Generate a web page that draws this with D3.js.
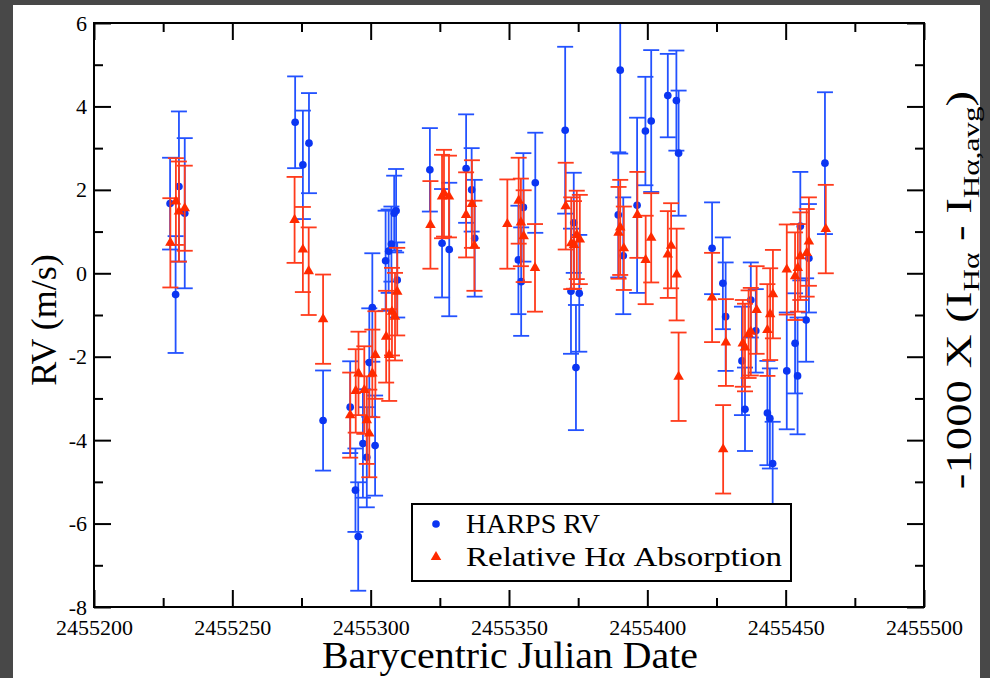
<!DOCTYPE html>
<html lang="en">
<head>
    <meta charset="UTF-8">
    <title>RV and H-alpha</title>
    <script src="https://d3js.org/d3.v7.min.js"></script>
    <style>
        body { margin: 0; background: #484848; }
        text { font-family: "Liberation Serif", "DejaVu Serif", serif; fill: #000; }
    </style>
</head>
<body>

<svg width="990" height="678"></svg>

<script>
    // HARPS RV (m/s)
    var rvBjd = [2455227.5, 2455229.5, 2455230.7, 2455232.8, 2455272.7, 2455275.5, 2455277.7, 2455282.8,
        2455292.6, 2455294.5, 2455295.5, 2455297.2, 2455298.6, 2455299.5, 2455300.6, 2455301.6,
        2455305.4, 2455306.5, 2455307.5, 2455308.5, 2455309.2, 2455309.6, 2455321.4, 2455325.8,
        2455328.4, 2455334.5, 2455336.5, 2455337.6, 2455353.4, 2455354.4, 2455355.2, 2455359.5,
        2455370.3, 2455372.4, 2455373.4, 2455374.2, 2455375.4, 2455389.5, 2455390.2, 2455391.3,
        2455396.3, 2455399.3, 2455401.4, 2455407.4, 2455410.5, 2455411.3, 2455423.4, 2455427.3,
        2455428.3, 2455434.2, 2455435.3, 2455437.4, 2455439.2, 2455443.4, 2455444.3, 2455445.3,
        2455450.4, 2455453.4, 2455454.3, 2455455.3, 2455457.4, 2455458.4, 2455464.2];
    var rvVal = [1.67, -0.51, 2.08, 1.44, 3.62, 2.60, 3.12, -3.53,
        -3.21, -5.20, -6.31, -4.08, -4.41, -2.14, -0.82, -4.13,
        0.30, 0.53, 0.70, 1.44, 1.50, -0.16, 2.48, 0.72,
        0.57, 2.51, 2.00, 0.84, 0.32, -0.20, 1.58, 2.17,
        3.43, -0.43, 1.21, -2.26, -0.48, 1.40, 4.87, 0.42,
        1.63, 3.41, 3.65, 4.26, 4.14, 2.88, 0.60, -0.24,
        -1.04, -2.10, -3.26, -0.64, -1.38, -3.35, -3.48, -4.56,
        -2.34, -1.68, -2.46, 1.13, -1.12, 0.36, 2.64];
    var rvErr = [1.1, 1.4, 1.8, 1.8, 1.1, 1.3, 1.2, 1.2,
        1.1, 1.0, 1.3, 1.3, 1.2, 1.3, 1.3, 1.2,
        1.2, 1.0, 0.9, 0.9, 1.0, 0.9, 1.0, 1.3,
        1.6, 1.3, 1.0, 1.4, 1.3, 1.3, 1.3, 1.2,
        2.0, 1.5, 1.2, 1.5, 1.4, 1.5, 2.0, 1.4,
        2.1, 1.3, 1.7, 1.0, 1.2, 1.5, 1.1, 1.1,
        1.3, 1.3, 1.0, 0.9, 1.0, 1.25, 1.2, 1.0,
        1.4, 1.2, 1.4, 1.3, 1.0, 1.3, 1.7];

    // Relative H-alpha absorption (-1000 x (I - I_avg))
    var haBjd = [2455227.6, 2455229.6, 2455230.7, 2455232.8, 2455272.5, 2455275.5, 2455277.6, 2455282.8,
        2455292.6, 2455294.6, 2455295.6, 2455297.7, 2455298.6, 2455299.5, 2455300.6, 2455301.7,
        2455305.6, 2455306.7, 2455307.7, 2455308.8, 2455309.6, 2455321.6, 2455325.8, 2455326.5,
        2455328.3, 2455334.5, 2455336.6, 2455337.5, 2455349.4, 2455353.5, 2455354.3, 2455355.3,
        2455359.4, 2455370.5, 2455372.5, 2455373.5, 2455374.5, 2455375.6, 2455389.6, 2455390.2,
        2455391.5, 2455396.4, 2455399.4, 2455401.4, 2455407.4, 2455408.6, 2455410.6, 2455411.3,
        2455423.4, 2455427.4, 2455428.4, 2455434.5, 2455435.3, 2455436.6, 2455437.4, 2455439.5,
        2455443.4, 2455444.4, 2455445.4, 2455450.4, 2455453.4, 2455454.4, 2455455.3, 2455457.6,
        2455458.4, 2455464.5];
    var haVal = [0.73, 1.72, 1.48, 1.56, 1.28, 0.57, 0.05, -1.10,
        -3.40, -2.82, -2.40, -2.80, -3.52, -3.84, -2.40, -1.96,
        -1.52, -1.96, -0.92, -1.04, -0.44, 1.16, 1.84, 1.92,
        1.84, 1.40, 1.66, 0.66, 1.18, 1.74, 1.22, 0.89,
        0.13, 1.61, 0.72, 0.68, 0.92, 0.81, 0.97, 1.10,
        0.60, 1.40, 0.32, 0.85, 0.45, 0.66, -0.03, -2.48,
        -0.58, -4.22, -1.66, -1.68, -1.78, -1.46, -1.40, -0.88,
        -1.36, -0.98, -0.50, 0.09, -0.07, 0.13, 0.41, 0.49,
        0.76, 1.06];
    var haErr = [1.07, 1.04, 1.2, 1.02, 1.03, 1.02, 1.05, 1.07,
        1.02, 1.0, 1.0, 1.05, 1.05, 1.05, 1.05, 1.05,
        1.1, 1.1, 1.05, 1.05, 1.05, 1.05, 1.0, 1.04,
        0.98, 1.02, 1.05, 1.08, 1.07, 1.03, 1.05, 1.1,
        1.05, 1.04, 1.1, 1.05, 1.06, 1.07, 1.1, 1.14,
        1.0, 1.03, 1.06, 1.07, 1.04, 1.02, 1.1, 1.06,
        1.07, 1.06, 1.04, 1.04, 1.05, 1.05, 1.05, 1.05,
        1.1, 1.1, 1.06, 1.08, 1.05, 1.05, 1.05, 1.05,
        1.06, 1.06];

    var xMajor = d3.range(2455200, 2455501, 50);
    var xMinor = d3.range(2455225, 2455500, 50);
    var yMajor = d3.range(-8, 7, 2);
    var yMinor = d3.range(-7, 6, 2);
    var legendLabels = ['HARPS RV', 'Relative H\u03b1 Absorption'];

    var blueLine = '#2352ff', blueDot = '#0b35f2';
    var redLine = '#ff3b1c', redDot = '#ff2a00';

    var svg = d3.select('svg');
    var pL = 94, pT = 23, pR = 924, pB = 607;  // plot box

    // white page on dark frame
    svg.append('rect').attr('x', 13).attr('y', 5).attr('width', 967).attr('height', 673).attr('fill', '#fff');

    var x = d3.scaleLinear().domain([2455200, 2455500]).range([pL, pR]);
    var y = d3.scaleLinear().domain([-8, 6]).range([pB, pT]);

    svg.append('clipPath').attr('id', 'plot').append('rect')
        .attr('x', pL).attr('y', pT).attr('width', pR - pL).attr('height', pB - pT);

    // axes: major ticks with labels, minor ticks, mirrored on top/right
    function tidy(g) {
        g.select('.domain').remove();
        g.selectAll('line').attr('stroke', '#000').attr('stroke-width', 2);
        g.selectAll('text').style('font-family', '"Liberation Serif", serif').attr('font-size', 22).attr('fill', '#000');
    }
    var plain = function (d) { return String(d); };  // hyphen minus like the original
    svg.append('g').attr('transform', 'translate(0,' + pB + ')')
        .call(d3.axisBottom(x).tickValues(xMajor).tickSize(-17).tickPadding(12).tickFormat(plain)).call(tidy);
    svg.append('g').attr('transform', 'translate(0,' + pB + ')')
        .call(d3.axisBottom(x).tickValues(xMinor).tickSize(-9).tickFormat('')).call(tidy);
    svg.append('g').attr('transform', 'translate(0,' + pT + ')')
        .call(d3.axisTop(x).tickValues(xMajor).tickSize(-17).tickFormat('')).call(tidy);
    svg.append('g').attr('transform', 'translate(0,' + pT + ')')
        .call(d3.axisTop(x).tickValues(xMinor).tickSize(-9).tickFormat('')).call(tidy);
    svg.append('g').attr('transform', 'translate(' + pL + ',0)')
        .call(d3.axisLeft(y).tickValues(yMajor).tickSize(-17).tickPadding(7).tickFormat(plain)).call(tidy);
    svg.append('g').attr('transform', 'translate(' + pL + ',0)')
        .call(d3.axisLeft(y).tickValues(yMinor).tickSize(-9).tickFormat('')).call(tidy);
    svg.append('g').attr('transform', 'translate(' + pR + ',0)')
        .call(d3.axisRight(y).tickValues(yMajor).tickSize(-17).tickFormat('')).call(tidy);
    svg.append('g').attr('transform', 'translate(' + pR + ',0)')
        .call(d3.axisRight(y).tickValues(yMinor).tickSize(-9).tickFormat('')).call(tidy);

    // error bars
    function drawSet(bjd, val, err, lineColor) {
        var g = svg.append('g').attr('clip-path', 'url(#plot)')
            .attr('stroke', lineColor).attr('stroke-width', 1.8).attr('fill', 'none');
        var cap = 8;
        var bars = g.selectAll('g').data(bjd).enter().append('g');
        bars.append('line')
            .attr('x1', function (d) { return x(d); }).attr('x2', function (d) { return x(d); })
            .attr('y1', function (d, i) { return y(val[i] + err[i]); })
            .attr('y2', function (d, i) { return y(val[i] - err[i]); });
        bars.append('line')
            .attr('x1', function (d) { return x(d) - cap; }).attr('x2', function (d) { return x(d) + cap; })
            .attr('y1', function (d, i) { return y(val[i] + err[i]); })
            .attr('y2', function (d, i) { return y(val[i] + err[i]); });
        bars.append('line')
            .attr('x1', function (d) { return x(d) - cap; }).attr('x2', function (d) { return x(d) + cap; })
            .attr('y1', function (d, i) { return y(val[i] - err[i]); })
            .attr('y2', function (d, i) { return y(val[i] - err[i]); });
    }
    var circle = d3.symbol().type(d3.symbolCircle).size(46);
    var tri = d3.symbol().type(d3.symbolTriangle).size(48);

    drawSet(rvBjd, rvVal, rvErr, blueLine);
    svg.append('g').selectAll('path').data(rvBjd).enter().append('path')
        .attr('d', circle).attr('fill', blueDot)
        .attr('transform', function (d, i) { return 'translate(' + x(d) + ',' + y(rvVal[i]) + ')'; });

    drawSet(haBjd, haVal, haErr, redLine);
    svg.append('g').selectAll('path').data(haBjd).enter().append('path')
        .attr('d', tri).attr('fill', redDot)
        .attr('transform', function (d, i) { return 'translate(' + x(d) + ',' + y(haVal[i]) + ')'; });

    // frame
    svg.append('rect').attr('x', pL).attr('y', pT).attr('width', pR - pL).attr('height', pB - pT)
        .attr('fill', 'none').attr('stroke', '#000').attr('stroke-width', 2);

    // legend
    var lg = svg.append('g');
    lg.append('rect').attr('x', 412).attr('y', 504).attr('width', 379).attr('height', 77)
        .attr('fill', '#fff').attr('stroke', '#000').attr('stroke-width', 2);
    lg.append('path').attr('d', circle).attr('fill', blueDot).attr('transform', 'translate(436,524)');
    lg.append('path').attr('d', tri).attr('fill', redDot).attr('transform', 'translate(436,557)');
    lg.append('text').attr('x', 466).attr('y', 533).attr('font-size', 28).text(legendLabels[0]);
    lg.append('text').attr('x', 466).attr('y', 566).attr('font-size', 28)
        .attr('textLength', 316).attr('lengthAdjust', 'spacingAndGlyphs').text(legendLabels[1]);

    // axis titles
    svg.append('text').attr('x', 510).attr('y', 668).attr('text-anchor', 'middle').attr('font-size', 38)
        .attr('textLength', 376).attr('lengthAdjust', 'spacingAndGlyphs').text('Barycentric Julian Date');
    svg.append('text').attr('transform', 'translate(56,320) rotate(-90)').attr('text-anchor', 'middle')
        .attr('font-size', 36).text('RV (m/s)');

    // right title, stretched along its length like the original
    var rt = svg.append('text').attr('transform', 'translate(971,290) rotate(-90) scale(1.3,1)')
        .attr('text-anchor', 'middle').attr('font-size', 36);
    rt.append('tspan').text('-1000 X (I');
    rt.append('tspan').attr('font-size', 24).attr('dy', 8).text('H\u03b1');
    rt.append('tspan').attr('dy', -8).text(' - I');
    rt.append('tspan').attr('font-size', 24).attr('dy', 8).text('H\u03b1,avg');
    rt.append('tspan').attr('dy', -8).text(')');
</script>
</body>
</html>
